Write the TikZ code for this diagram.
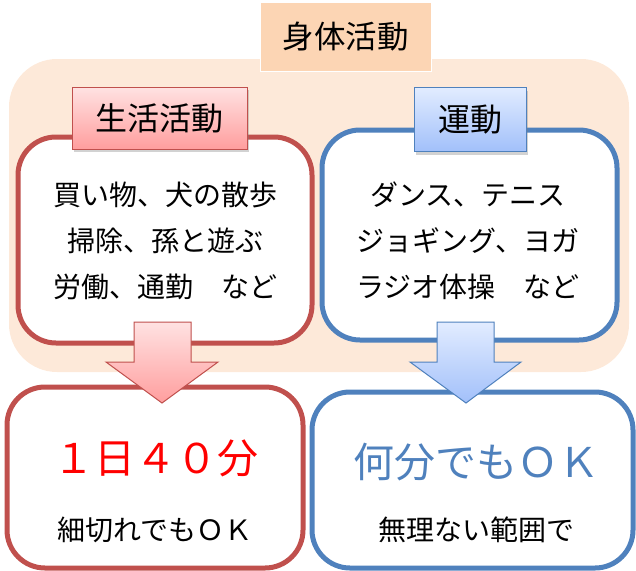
\documentclass[tikz,border=0pt]{standalone}
\usepackage{fontspec}
\setmainfont{Noto Sans CJK JP}
\usetikzlibrary{shadows}
\definecolor{bgpeach}{HTML}{FDE9D9}
\definecolor{titlepeach}{HTML}{FCD5B4}
\definecolor{redline}{HTML}{C0504D}
\definecolor{blueline}{HTML}{4F81BD}
\definecolor{pinktop}{HTML}{FFE2E2}
\definecolor{pinkbot}{HTML}{FF9E9E}
\definecolor{bluetop}{HTML}{E2ECFF}
\definecolor{bluebot}{HTML}{A2C0FA}
\tikzset{
  contentbox/.style={draw, line width=5pt, fill=white, rounded corners=38pt, inner sep=0pt},
  labelbox/.style={draw, line width=1pt, inner sep=0pt, drop shadow={shadow xshift=2pt, shadow yshift=-3pt, opacity=0.35}},
  bigtext/.style={font=\fontsize{41pt}{48pt}\selectfont, inner sep=0pt},
  midtext/.style={font=\fontsize{28pt}{46pt}\selectfont, align=center, inner sep=0pt},
  arrowshape/.style={draw, line width=1pt, line join=miter},
}
\begin{document}
\begin{tikzpicture}[x=1pt,y=-1pt]
\useasboundingbox (0,0) rectangle (636,570);
% background
\node[fill=bgpeach, rounded corners=48pt, minimum width=620pt, minimum height=313pt, inner sep=0pt] (bg) at (319,215.5) {};
% title
\node[fill=titlepeach, draw=white, line width=1pt, minimum width=171pt, minimum height=69pt, inner sep=0pt,
      font=\fontsize{31.5pt}{36pt}\selectfont] (title) at (345.5,36.5) {身体活動};
% content boxes
\node[contentbox, draw=redline, minimum width=294pt, minimum height=206pt] (lifebox) at (165,240) {};
\node[contentbox, draw=blueline, minimum width=295pt, minimum height=210pt] (exbox) at (469.5,235) {};
\node[midtext] (lifetext) at (165,241) {買い物、犬の散歩\\掃除、孫と遊ぶ\\労働、通勤　など};
\node[midtext] (extext) at (468,241) {ダンス、テニス\\ジョギング、ヨガ\\ラジオ体操　など};
% label boxes
\node[labelbox, draw=redline, top color=pinktop, bottom color=pinkbot, minimum width=175pt, minimum height=62pt,
      font=\fontsize{32pt}{36pt}\selectfont] (lifelabel) at (159.5,118) {生活活動};
\node[labelbox, draw=blueline, top color=bluetop, bottom color=bluebot, minimum width=112pt, minimum height=64pt,
      font=\fontsize{32pt}{36pt}\selectfont] (exlabel) at (470,119.5) {運動};
% bottom boxes
\node[contentbox, draw=redline, minimum width=296pt, minimum height=181pt] (liferesult) at (155,477.5) {};
\node[contentbox, draw=blueline, minimum width=321pt, minimum height=176pt] (exresult) at (472.5,480) {};
% arrows
\path[arrowshape, draw=redline, top color=pinktop, bottom color=pinkbot]
  (134,322) -- (191,322) -- (191,362) -- (218,362) -- (162,403) -- (106,362) -- (134,362) -- cycle;
\path[arrowshape, draw=blueline, top color=bluetop, bottom color=bluebot]
  (437,322) -- (494,322) -- (494,362) -- (521,362) -- (466,403) -- (410,362) -- (437,362) -- cycle;
% result texts
\node[bigtext, text=red] (lifebig) at (156,458) {１日４０分};
\node[midtext] (lifesmall) at (155,530) {細切れでもＯＫ};
\node[bigtext, text=blueline] (exbig) at (476,462) {何分でもＯＫ};
\node[midtext] (exsmall) at (476,530) {無理ない範囲で};
\end{tikzpicture}
\end{document}
